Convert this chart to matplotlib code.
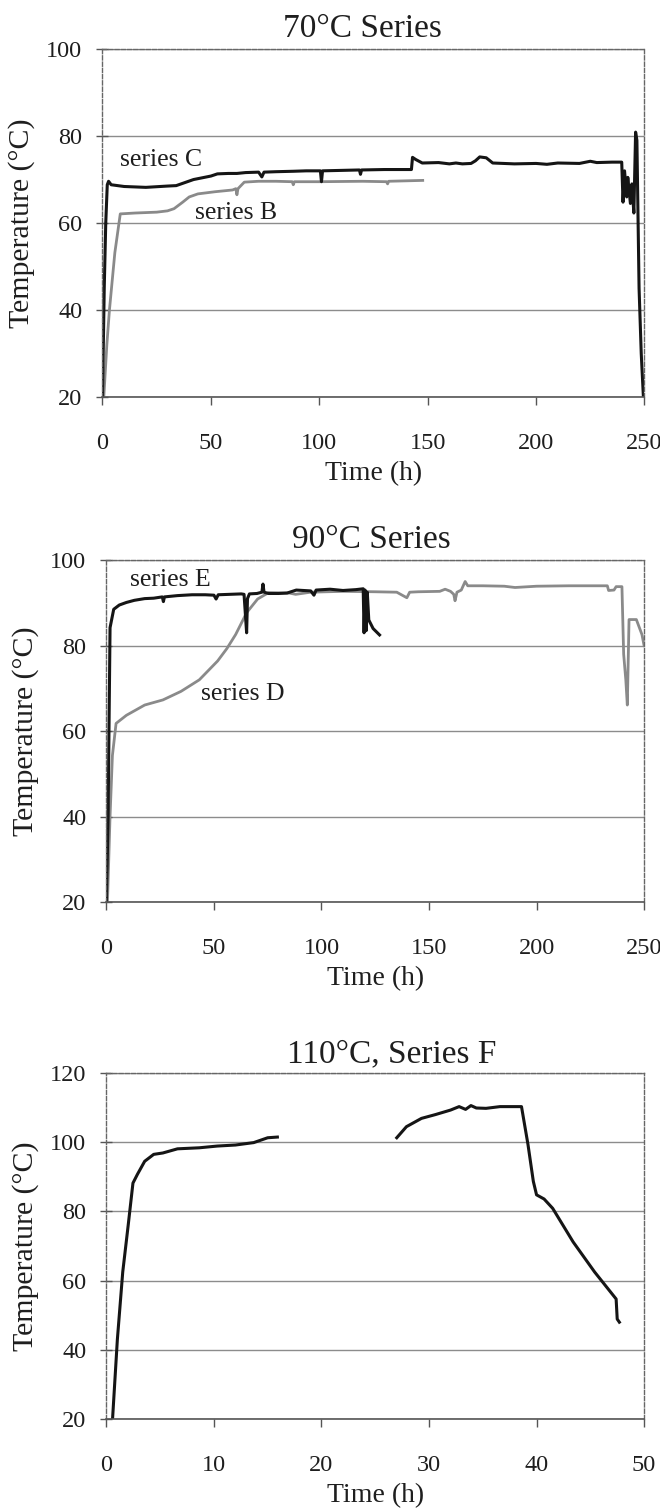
import matplotlib
matplotlib.use("Agg")
import matplotlib.pyplot as plt

plt.rcParams["font.family"] = ["Liberation Serif", "DejaVu Serif"]

# 70 C series
c_time = [0, 0.8, 1.5, 2.2, 2.8, 4, 10, 20, 30, 34, 38, 42, 46, 50, 53, 58, 62, 66, 72, 73.5, 74.5,
          80, 88, 94, 100.5, 101, 101.5, 110, 118.5, 119, 119.5, 130, 142.5, 143, 144.5, 147.5, 155,
          160, 163, 166, 170, 172, 174, 177, 180, 190, 200, 205, 210, 220, 225, 228, 235, 239.5,
          240.1, 240.8, 241.8, 242.3, 243.5, 244.2, 245.1, 245.9, 246.5, 247.5, 248.5, 249.5]
c_temp = [20, 45, 60, 68.8, 69.6, 68.8, 68.4, 68.2, 68.5, 68.6, 69.3, 70.0, 70.4, 70.8, 71.3, 71.4,
          71.4, 71.6, 71.7, 70.6, 71.7, 71.8, 71.9, 72.0, 72.0, 69.5, 72.0, 72.1, 72.2, 71.2, 72.2,
          72.3, 72.3, 75.1, 74.6, 73.8, 73.9, 73.6, 73.8, 73.6, 73.7, 74.3, 75.2, 75.0, 73.8, 73.6,
          73.7, 73.5, 73.8, 73.7, 74.2, 73.9, 74.0, 74.0, 64.8, 72.0, 66.0, 70.5, 64.5, 69.0, 62.3,
          80.9, 79.0, 45.0, 30.0, 20.0]
b_time = [0.6, 2, 3.2, 5.7, 8.2, 15, 25, 30, 33, 37, 40, 44, 52, 60, 61.5, 62, 62.5, 65.4, 72, 80,
          87.5, 88, 88.5, 100, 120, 131, 131.5, 132, 147.7]
b_temp = [20, 32, 40, 53.2, 62.1, 62.3, 62.5, 62.8, 63.3, 64.8, 66.0, 66.7, 67.2, 67.6, 67.9, 66.5,
          67.9, 69.4, 69.6, 69.6, 69.5, 68.8, 69.5, 69.5, 69.6, 69.5, 69.0, 69.6, 69.8]

# 90 C series
e_time = [0, 0.8, 1.2, 1.7, 3.4, 6, 9.3, 13, 17.8, 22, 26, 26.5, 27, 33, 39.8, 46, 50, 51, 52, 62.7,
          64, 64.8, 65.2, 65.6, 66.5, 70, 72.3, 72.8, 73.3, 75.4, 80, 84, 88.3, 95, 96.5, 97.5, 104,
          110, 116, 119.4, 119.8, 120.3, 120.8, 121.3, 122, 124, 127]
e_temp = [20, 40, 60, 84.2, 88.5, 89.5, 90.1, 90.6, 91.0, 91.1, 91.4, 90.3, 91.4, 91.7, 91.9, 91.9,
          91.8, 90.9, 91.9, 92.1, 92.0, 86.0, 83.0, 91.0, 92.1, 92.2, 92.5, 94.4, 92.5, 92.2, 92.2,
          92.3, 93.0, 92.8, 91.8, 93.0, 93.2, 92.9, 93.1, 93.3, 83.0, 93.0, 83.5, 92.5, 86.0, 84.0,
          82.5]
d_time = [0.5, 1.7, 2.8, 4.5, 9.3, 17.8, 26.3, 34.7, 43.2, 51.7, 56, 60.1, 65.2, 70.3, 75.4, 85, 88,
          95, 110, 125, 135, 139.7, 141, 145, 155, 157.5, 160, 161.5, 162.1, 163, 165, 166.8, 168,
          175, 185, 190, 200, 215, 232.9, 233.5, 236, 237, 239.7, 240.5, 241.5, 242.2, 243.0, 246.4,
          249.0, 250]
d_temp = [20, 40.1, 54.3, 61.8, 63.7, 66.1, 67.3, 69.3, 72.0, 76.4, 79.3, 82.6, 87.7, 90.9, 92.4,
          92.3, 92.0, 92.5, 92.7, 92.6, 92.5, 91.2, 92.5, 92.6, 92.7, 93.2, 92.7, 92.0, 90.5, 92.5,
          93.0, 95.0, 94.0, 94.0, 93.9, 93.6, 93.9, 94.0, 94.0, 92.9, 93.0, 93.8, 93.8, 78.0, 72.0,
          66.1, 86.1, 86.1, 82.6, 80.0]

# 110 C series F (two logged segments)
f1_time = [0.58, 1.02, 1.52, 2.03, 2.47, 2.88, 3.56, 4.40, 5.25, 6.61, 8.64, 10.3, 12.0, 13.7, 15.0,
           15.9]
f1_temp = [20.4, 43.0, 62.5, 76.1, 88.2, 90.7, 94.5, 96.5, 96.9, 98.1, 98.4, 98.9, 99.2, 99.9,
           101.3, 101.5]
f2_time = [27.0, 27.9, 29.3, 30.6, 32.0, 32.8, 33.4, 33.9, 34.4, 35.3, 36.6, 38.6, 39.2, 39.7, 40.0,
           40.7, 41.5, 43.4, 45.4, 47.4, 47.5, 47.7]
f2_temp = [101.3, 104.5, 106.9, 108.0, 109.3, 110.3, 109.5, 110.6, 109.9, 109.8, 110.3, 110.3, 99.4,
           88.7, 84.8, 83.6, 80.9, 71.2, 62.5, 54.7, 48.9, 48.0]

BLACK = "#151515"
GRAY = "#8a8a8a"
TEXT = "#1e1e1e"


def style_axes(ax, xmax, xstep, ymax):
    ax.set_xlim(0, xmax)
    ax.set_ylim(20, ymax)
    ax.set_xticks(range(0, xmax + 1, xstep))
    ax.set_yticks(range(20, ymax + 1, 20))
    ax.yaxis.grid(True, color="#8c8c8c", linewidth=1.0)
    ax.set_axisbelow(True)
    for side in ["top", "right", "left"]:
        ax.spines[side].set_linestyle((0, (3, 1.5)))
        ax.spines[side].set_color("#666666")
        ax.spines[side].set_linewidth(1.0)
    ax.spines["bottom"].set_color("#555555")
    ax.spines["bottom"].set_linewidth(1.2)
    ax.tick_params(axis="x", direction="out", length=6, width=1, color="#555555",
                   labelsize=17.5, pad=20, labelcolor=TEXT)
    ax.tick_params(axis="y", direction="inout", length=9, width=1, color="#555555",
                   labelsize=17.5, pad=10, labelcolor=TEXT)
    ax.set_xlabel("Time (h)", fontsize=20, labelpad=5, color=TEXT)
    ax.set_ylabel("Temperature (°C)", fontsize=21.5, labelpad=8, color=TEXT)


fig = plt.figure(figsize=(6.6, 15.09), dpi=100)

ax1 = fig.add_axes([0.1553, 0.7369, 0.8212, 0.2306])
ax1.plot(b_time, b_temp, color=GRAY, lw=2.0)
ax1.plot(c_time, c_temp, color=BLACK, lw=2.2)
ax1.text(8.1, 73.2, "series C", fontsize=18.5, color=TEXT)
ax1.text(42.8, 60.9, "series B", fontsize=18.5, color=TEXT)
style_axes(ax1, 250, 50, 100)
ax1.set_title("70°C Series", fontsize=24, pad=9, x=0.48, color=TEXT)

ax2 = fig.add_axes([0.1612, 0.4022, 0.8147, 0.2266])
ax2.plot(d_time, d_temp, color=GRAY, lw=2.0)
ax2.plot(e_time, e_temp, color=BLACK, lw=2.2)
ax2.text(11.0, 94.0, "series E", fontsize=18.5, color=TEXT)
ax2.text(44.0, 67.3, "series D", fontsize=18.5, color=TEXT)
style_axes(ax2, 250, 50, 100)
ax2.set_title("90°C Series", fontsize=24, pad=9, x=0.492, color=TEXT)

ax3 = fig.add_axes([0.1612, 0.0596, 0.8147, 0.2293])
ax3.plot(f1_time, f1_temp, color=BLACK, lw=2.2)
ax3.plot(f2_time, f2_temp, color=BLACK, lw=2.2)
style_axes(ax3, 50, 10, 120)
ax3.set_title("110°C, Series F", fontsize=24, pad=8, x=0.53, color=TEXT)

fig.savefig("out.png", dpi=100)
